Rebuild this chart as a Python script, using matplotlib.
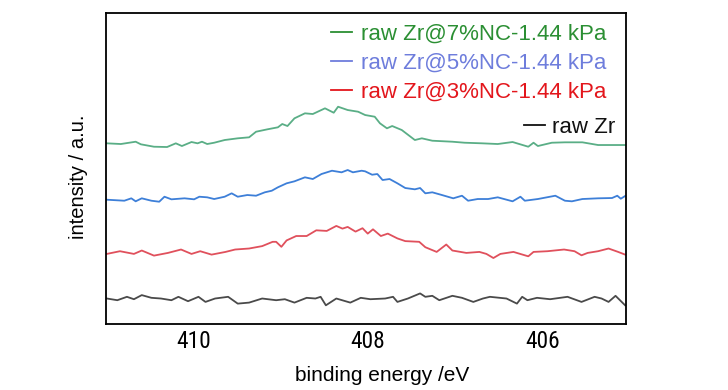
import matplotlib
matplotlib.use("Agg")
import matplotlib.pyplot as plt
from matplotlib.font_manager import fontManager
from matplotlib.lines import Line2D

# binding energy (eV) / intensity (a.u.), one pair per sample
e_7 = [410.99, 410.83, 410.66, 410.60, 410.45, 410.30, 410.20, 410.13, 410.02, 409.95,
       409.90, 409.84, 409.76, 409.64, 409.49, 409.36, 409.28, 409.15, 409.03, 408.98,
       408.92, 408.84, 408.72, 408.63, 408.49, 408.39, 408.34, 408.23, 408.11, 408.03,
       407.92, 407.86, 407.78, 407.72, 407.61, 407.46, 407.38, 407.26, 407.03, 406.89,
       406.69, 406.51, 406.34, 406.16, 406.10, 406.05, 405.89, 405.74, 405.54, 405.36,
       405.02]
i_7 = [180.7, 180.0, 182.3, 179.7, 177.3, 177.0, 180.7, 178.0, 182.0, 180.7,
       182.3, 180.0, 181.3, 184.0, 185.7, 186.7, 192.3, 194.7, 196.7, 200.0,
       198.0, 205.7, 210.7, 210.0, 215.7, 211.3, 217.3, 214.0, 212.3, 209.0,
       207.3, 200.7, 195.7, 198.0, 194.0, 184.0, 185.7, 183.3, 182.3, 181.3,
       180.7, 180.0, 182.0, 177.3, 181.3, 178.0, 181.3, 181.7, 181.7, 179.0,
       179.0]

e_5 = [410.99, 410.79, 410.71, 410.66, 410.59, 410.48, 410.39, 410.33, 410.25, 410.10,
       409.99, 409.93, 409.84, 409.76, 409.64, 409.56, 409.49, 409.38, 409.28, 409.18,
       409.10, 409.03, 408.93, 408.84, 408.72, 408.63, 408.53, 408.41, 408.30, 408.23,
       408.17, 408.07, 408.03, 407.95, 407.89, 407.83, 407.75, 407.66, 407.57, 407.46,
       407.40, 407.34, 407.26, 407.15, 407.02, 406.92, 406.85, 406.74, 406.62, 406.51,
       406.34, 406.25, 406.20, 406.05, 405.85, 405.74, 405.66, 405.54, 405.36, 405.20,
       405.14, 405.10, 405.05]
i_5 = [124.3, 123.3, 125.7, 122.7, 125.7, 123.3, 122.3, 127.3, 124.7, 125.7,
       124.7, 127.3, 126.7, 125.0, 127.3, 130.7, 127.3, 129.0, 128.3, 131.7,
       133.3, 136.7, 140.7, 142.7, 146.7, 145.0, 150.0, 153.3, 151.7, 154.0,
       151.7, 153.3, 152.7, 149.3, 150.0, 144.0, 145.0, 140.7, 136.0, 134.7,
       136.0, 130.7, 131.7, 129.0, 125.7, 128.3, 123.3, 125.0, 125.0, 126.7,
       122.7, 127.3, 123.3, 125.0, 128.3, 123.3, 122.7, 125.0, 125.7, 126.0,
       128.3, 125.3, 128.0]

e_3 = [410.99, 410.84, 410.68, 410.59, 410.45, 410.29, 410.14, 410.02, 409.92, 409.79,
       409.63, 409.52, 409.36, 409.21, 409.09, 409.05, 408.99, 408.93, 408.82, 408.70,
       408.59, 408.47, 408.36, 408.29, 408.23, 408.14, 408.06, 408.00, 407.94, 407.85,
       407.77, 407.66, 407.57, 407.41, 407.34, 407.21, 407.10, 407.03, 406.87, 406.72,
       406.64, 406.56, 406.48, 406.33, 406.16, 406.10, 405.94, 405.75, 405.63, 405.55,
       405.48, 405.36, 405.24, 405.13, 405.05]
i_3 = [70.1, 72.8, 70.1, 73.5, 68.4, 71.1, 74.5, 70.1, 72.8, 69.4,
       72.1, 74.5, 75.5, 77.9, 82.2, 82.2, 77.2, 83.6, 88.0, 88.0,
       93.7, 93.1, 98.1, 95.4, 97.1, 92.4, 95.8, 90.4, 94.7, 88.0,
       90.4, 85.6, 82.9, 82.2, 76.8, 72.1, 79.5, 73.5, 71.1, 72.1,
       70.1, 66.0, 70.1, 72.1, 67.7, 72.1, 72.8, 74.5, 72.8, 68.7,
       71.1, 72.8, 75.5, 72.1, 69.4]

e_raw = [410.99, 410.87, 410.76, 410.68, 410.59, 410.48, 410.37, 410.25, 410.17, 410.06,
         409.94, 409.86, 409.75, 409.60, 409.49, 409.36, 409.21, 409.05, 408.95, 408.84,
         408.70, 408.60, 408.54, 408.48, 408.36, 408.20, 408.08, 407.97, 407.80, 407.71,
         407.66, 407.54, 407.40, 407.34, 407.26, 407.18, 407.03, 406.92, 406.79, 406.68,
         406.60, 406.41, 406.29, 406.23, 406.17, 406.06, 405.91, 405.71, 405.55, 405.40,
         405.32, 405.24, 405.16, 405.05]
i_raw = [25.5, 23.8, 27.2, 24.8, 28.9, 26.2, 25.5, 23.8, 27.2, 22.8,
         27.2, 22.1, 25.5, 27.2, 20.4, 21.4, 25.5, 23.8, 24.8, 21.4,
         26.2, 25.5, 27.2, 18.7, 25.5, 21.4, 26.2, 24.8, 25.5, 27.2,
         22.1, 25.5, 30.6, 27.2, 28.2, 23.8, 28.2, 26.2, 22.1, 25.5,
         27.2, 25.5, 20.4, 27.2, 23.8, 26.2, 24.8, 27.2, 22.1, 27.2,
         25.5, 22.1, 28.2, 18.7]

labels = ["raw Zr@7%NC-1.44 kPa", "raw Zr@5%NC-1.44 kPa", "raw Zr@3%NC-1.44 kPa", "raw Zr"]
line_colors = ["#5aae86", "#3d7fd8", "#e0505c", "#4a4a4a"]
text_colors = ["#2b8f33", "#6e7ddc", "#e3161c", "#111111"]
xticks = [410, 408, 406]

# tick numbers in the reference are a narrow sans; use one if there is one
installed = {f.name for f in fontManager.ttflist}
tick_font, tick_size = "Liberation Sans", 15
for name in ["Liberation Sans Narrow", "Arial Narrow", "Roboto Condensed"]:
    if name in installed:
        tick_font, tick_size = name, 16.8
        break
plt.rcParams["font.family"] = "Liberation Sans"

fig = plt.figure(figsize=(7.28, 3.90), dpi=100)
ax = fig.add_axes([0.1456, 0.1692, 0.7143, 0.7974])

series = [(e_7, i_7), (e_5, i_5), (e_3, i_3), (e_raw, i_raw)]
for (e, i), c in zip(series, line_colors):
    ax.plot(e, i, color=c, lw=1.3)

ax.set_xlim(411.0, 405.04)
ax.set_ylim(0, 311)
ax.set_xticks(xticks)
ax.set_xticklabels([str(t) for t in xticks], fontsize=tick_size, family=tick_font)
ax.set_yticks([])
ax.tick_params(axis="x", length=0, pad=4)
for s in ax.spines.values():
    s.set_linewidth(1.3)
    s.set_color("black")

ax.set_xlabel("binding energy /eV", fontsize=15)
ax.xaxis.set_label_coords(0.531, -0.135)
ax.set_ylabel("intensity / a.u.", fontsize=14.5)
ax.yaxis.set_label_coords(-0.035, 0.475)

# three doped samples in one block, raw Zr on its own below
handles = [Line2D([], [], color=c, lw=1.3) for c in text_colors]
leg1 = ax.legend(handles[:3], labels[:3], loc="upper right", bbox_to_anchor=(0.962, 0.965),
                 frameon=False, fontsize=16, handlelength=0.95, handletextpad=0.4,
                 labelspacing=0.36, borderpad=0, borderaxespad=0, labelcolor=text_colors[:3])
ax.add_artist(leg1)
ax.legend(handles[3:], labels[3:], loc="upper right", bbox_to_anchor=(0.979, 0.667),
          frameon=False, fontsize=16, handlelength=0.95, handletextpad=0.3,
          borderpad=0, borderaxespad=0, labelcolor=text_colors[3:])

fig.savefig("out.png", dpi=100)
